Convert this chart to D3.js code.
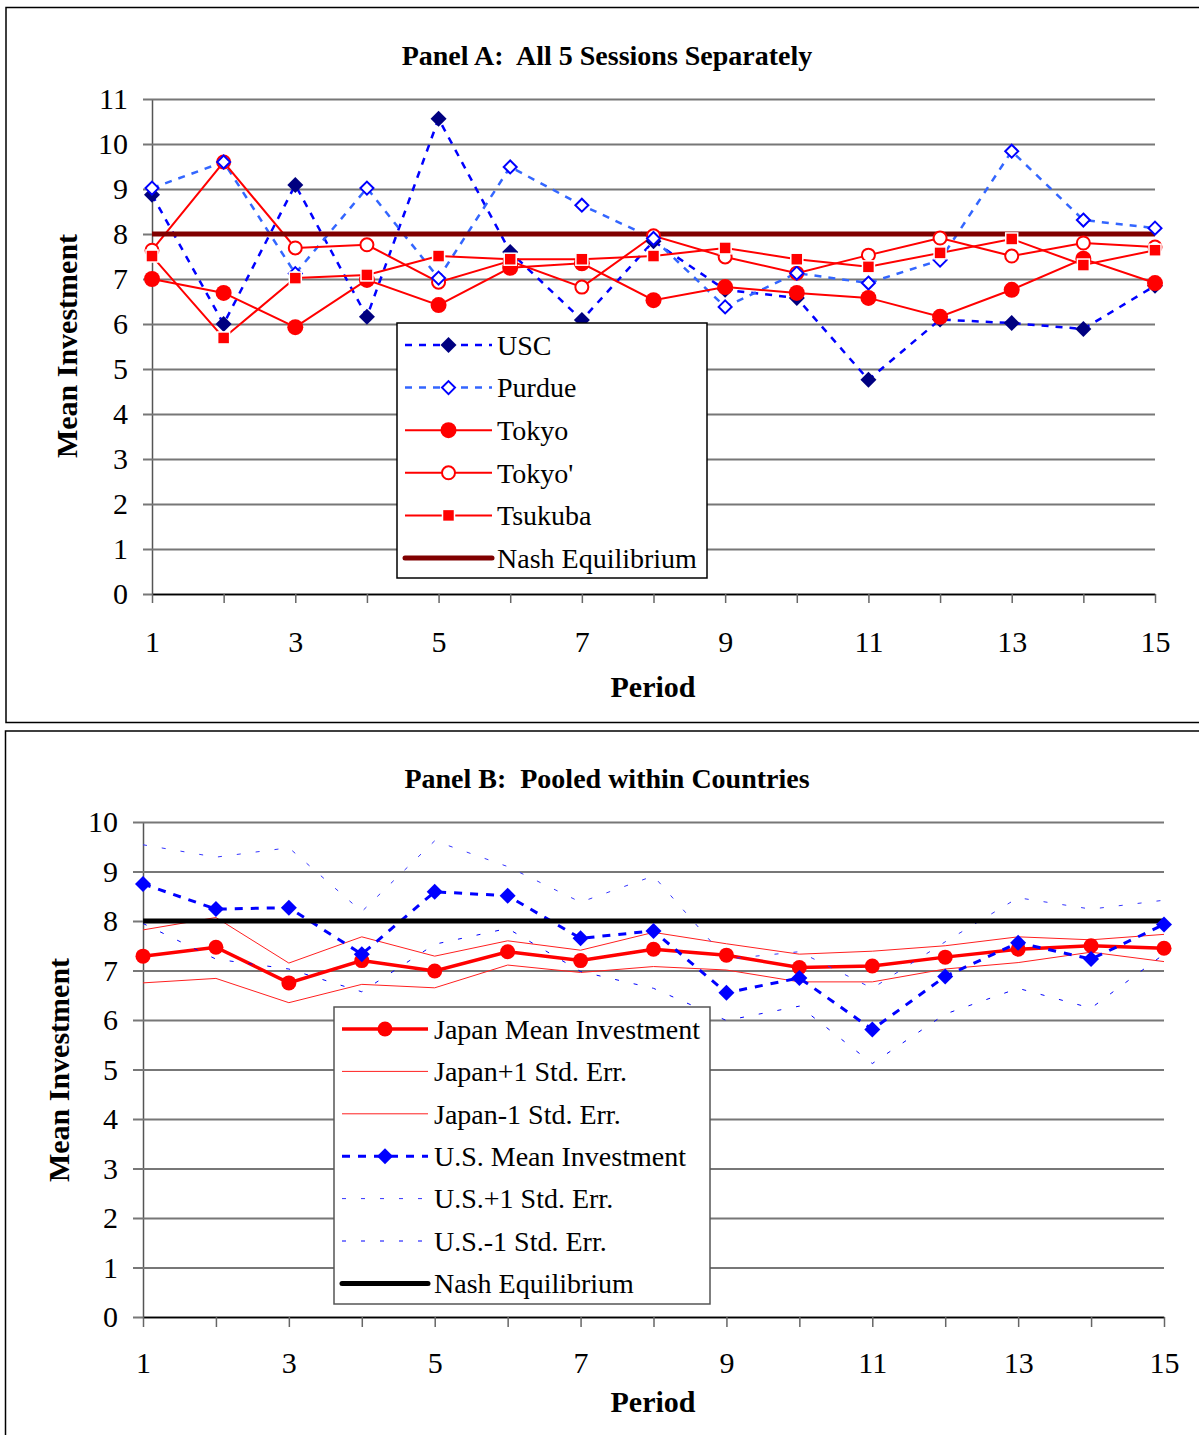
<!DOCTYPE html>
<html>
<head>
<meta charset="utf-8">
<script src="https://cdn.jsdelivr.net/npm/d3@7"></script>
<style>
  body { margin: 0; background: #fff; }
  svg text { font-family: "Liberation Serif", "Times New Roman", serif; }
</style>
</head>
<body>
<div id="root"></div>
<script>
// periods shared by both panels
const periods = d3.range(1, 16);
const xTickLabels = [1, 3, 5, 7, 9, 11, 13, 15];

// Panel A: every session on its own
const usc = [8.87, 6.0, 9.09, 6.16, 10.56, 7.6, 6.09, 7.84, 6.76, 6.58, 4.76, 6.1, 6.02, 5.89, 6.85];
const purdue = [9.02, 9.6, 7.12, 9.02, 7.02, 9.49, 8.64, 7.9, 6.38, 7.13, 6.91, 7.42, 9.84, 8.31, 8.13];
const tokyo = [7.0, 6.69, 5.93, 6.98, 6.42, 7.25, 7.35, 6.53, 6.82, 6.69, 6.58, 6.16, 6.76, 7.45, 6.91];
const tokyoPrime = [7.64, 9.6, 7.69, 7.76, 6.93, 7.4, 6.82, 7.96, 7.49, 7.13, 7.53, 7.91, 7.51, 7.8, 7.71];
const tsukuba = [7.51, 5.69, 7.02, 7.09, 7.51, 7.44, 7.44, 7.51, 7.69, 7.44, 7.27, 7.58, 7.89, 7.31, 7.64];
const yTicksA = d3.range(0, 12);

// Panel B: pooled by country
const japan = [7.29, 7.47, 6.75, 7.2, 6.99, 7.38, 7.2, 7.43, 7.31, 7.06, 7.09, 7.27, 7.43, 7.5, 7.45];
const japanHi = [7.82, 8.07, 7.15, 7.68, 7.29, 7.6, 7.41, 7.77, 7.54, 7.33, 7.39, 7.5, 7.68, 7.62, 7.73];
const japanLo = [6.75, 6.84, 6.35, 6.72, 6.65, 7.11, 6.96, 7.08, 7.01, 6.77, 6.77, 7.03, 7.16, 7.37, 7.18];
const us = [8.75, 8.24, 8.27, 7.33, 8.59, 8.51, 7.65, 7.8, 6.55, 6.85, 5.81, 6.88, 7.56, 7.23, 7.93];
const usHi = [9.54, 9.29, 9.48, 8.19, 9.62, 9.1, 8.38, 8.91, 7.23, 7.38, 6.64, 7.58, 8.47, 8.24, 8.42];
const usLo = [7.95, 7.23, 7.03, 6.57, 7.53, 7.85, 6.98, 6.64, 5.99, 6.28, 5.12, 6.12, 6.64, 6.24, 7.33];
const yTicksB = d3.range(0, 11);

const nashValue = 8;

const svg = d3.select("#root")
  .append("svg")
  .attr("width", 1199)
  .attr("height", 1435);

// diamond like excel's (square turned 45 degrees)
function diamond(r) {
  return `M0,${-r}L${r},0L0,${r}L${-r},0Z`;
}

function drawMarker(g, shape, x, y) {
  if (shape.type === "diamond") {
    g.append("path")
      .attr("d", diamond(shape.r))
      .attr("transform", `translate(${x},${y})`)
      .attr("fill", shape.fill)
      .attr("stroke", shape.stroke || "none")
      .attr("stroke-width", shape.sw || 0);
  } else if (shape.type === "circle") {
    g.append("circle")
      .attr("cx", x).attr("cy", y).attr("r", shape.r)
      .attr("fill", shape.fill)
      .attr("stroke", shape.stroke || "none")
      .attr("stroke-width", shape.sw || 0);
  } else if (shape.type === "square") {
    g.append("rect")
      .attr("x", x - shape.r).attr("y", y - shape.r)
      .attr("width", shape.r * 2).attr("height", shape.r * 2)
      .attr("fill", shape.fill)
      .attr("stroke", shape.stroke || "none")
      .attr("stroke-width", shape.sw || 0);
  }
}

function drawPanel(p) {
  const g = svg.append("g");

  // frame
  g.append("rect")
    .attr("x", p.frame[0]).attr("y", p.frame[1])
    .attr("width", p.frame[2]).attr("height", p.frame[3])
    .attr("fill", "none").attr("stroke", "#000").attr("stroke-width", 1.5);

  g.append("text")
    .attr("x", 607).attr("y", p.titleY)
    .attr("text-anchor", "middle")
    .attr("font-size", 28).attr("font-weight", "bold")
    .style("white-space", "pre")
    .text(p.title);

  const x = d3.scaleLinear().domain([1, 15]).range(p.xRange);
  const y = d3.scaleLinear().domain(p.yDomain).range(p.yRange);

  // y axis with gridlines
  const yAxis = d3.axisLeft(y)
    .tickValues(p.yTicks)
    .tickSize(-(p.gridRight - p.xRange[0]))
    .tickSizeOuter(0)
    .tickPadding(p.yPad);

  const ya = g.append("g")
    .attr("transform", `translate(${p.xRange[0]},0)`)
    .call(yAxis);
  ya.selectAll(".tick line")
    .attr("x1", -p.tickLen)
    .attr("stroke", "#777")
    .attr("stroke-width", 2);
  ya.select(".domain").attr("stroke", "#555").attr("stroke-width", 1.5);
  ya.selectAll("text")
    .attr("font-size", 30)
    .attr("fill", "#000")
    .attr("font-family", "'Liberation Serif', 'Times New Roman', serif");

  // x axis
  const xAxis = d3.axisBottom(x)
    .tickValues(periods)
    .tickSize(p.tickLen)
    .tickSizeOuter(0)
    .tickPadding(p.xPad)
    .tickFormat(d => xTickLabels.includes(d) ? d : "");
  const xa = g.append("g")
    .attr("transform", `translate(0,${y(0)})`)
    .call(xAxis);
  xa.select(".domain").attr("stroke", "#000").attr("stroke-width", 1.5);
  xa.selectAll(".tick line").attr("stroke", "#666").attr("stroke-width", 1.5);
  xa.selectAll("text")
    .attr("font-size", 30)
    .attr("fill", "#000")
    .attr("font-family", "'Liberation Serif', 'Times New Roman', serif");

  // axis titles
  g.append("text")
    .attr("x", 653).attr("y", p.periodY)
    .attr("text-anchor", "middle")
    .attr("font-size", 30).attr("font-weight", "bold")
    .text("Period");

  g.append("text")
    .attr("transform", `translate(${p.yTitleX},${p.yTitleY}) rotate(-90)`)
    .attr("text-anchor", "middle")
    .attr("font-size", 30).attr("font-weight", "bold")
    .text("Mean Investment");

  const line = d3.line()
    .x((d, i) => x(periods[i]))
    .y(d => y(d));

  // lines first, then markers on top
  p.series.forEach(s => {
    g.append("path")
      .datum(s.values)
      .attr("d", line)
      .attr("fill", "none")
      .attr("stroke", s.color)
      .attr("stroke-width", s.width)
      .attr("stroke-dasharray", s.dash || null);
  });

  const mg = g.append("g");
  const order = p.markerOrder || p.series.map((s, i) => i);
  order.forEach(k => {
    const s = p.series[k];
    if (!s.marker) return;
    s.values.forEach((v, i) => drawMarker(mg, s.marker, x(periods[i]), y(v)));
  });

  // legend
  const L = p.legend;
  const lg = g.append("g");
  lg.append("rect")
    .attr("x", L.box[0]).attr("y", L.box[1])
    .attr("width", L.box[2]).attr("height", L.box[3])
    .attr("fill", "#fff").attr("stroke", L.border).attr("stroke-width", 1.5);

  p.series.forEach((s, i) => {
    const ry = L.firstY + i * L.step;
    lg.append("line")
      .attr("x1", L.x1).attr("x2", L.x2)
      .attr("y1", ry).attr("y2", ry)
      .attr("stroke", s.color)
      .attr("stroke-width", s.width)
      .attr("stroke-dasharray", s.legendDash || s.dash || null)
      .attr("stroke-linecap", s.name.startsWith("Nash") ? "round" : "butt");
    if (s.marker) drawMarker(lg, s.marker, (L.x1 + L.x2) / 2, ry);
    lg.append("text")
      .attr("x", L.textX).attr("y", ry)
      .attr("dy", "0.35em")
      .attr("font-size", 28)
      .text(s.name);
  });
}

drawPanel({
  frame: [6, 7.5, 1200, 715],
  title: "Panel A:  All 5 Sessions Separately",
  titleY: 65,
  xRange: [152, 1155],
  yDomain: [0, 11],
  yRange: [594, 99],
  yTicks: yTicksA,
  gridRight: 1155,
  tickLen: 9,
  yPad: 24,
  xPad: 28,
  periodY: 697,
  yTitleX: 77,
  yTitleY: 346,
  markerOrder: [3, 0, 1, 2, 4],
  series: [
    { name: "USC", values: usc, color: "#0000ff", width: 2.5, dash: "7,7",
      marker: { type: "diamond", r: 8, fill: "#000080" } },
    { name: "Purdue", values: purdue, color: "#3366ff", width: 2.5, dash: "7,7",
      marker: { type: "diamond", r: 6.5, fill: "#fff", stroke: "#0000ff", sw: 2 } },
    { name: "Tokyo", values: tokyo, color: "#ff0000", width: 2,
      marker: { type: "circle", r: 8, fill: "#ff0000" } },
    { name: "Tokyo'", values: tokyoPrime, color: "#ff0000", width: 2,
      marker: { type: "circle", r: 6.5, fill: "#fff", stroke: "#ff0000", sw: 2 } },
    { name: "Tsukuba", values: tsukuba, color: "#ff0000", width: 2,
      marker: { type: "square", r: 6, fill: "#ff0000", stroke: "#fff", sw: 1.5 } },
    { name: "Nash Equilibrium", values: periods.map(() => nashValue), color: "#800000", width: 5 }
  ],
  legend: { box: [397, 323, 310, 255], border: "#000", firstY: 345, step: 42.6,
            x1: 405, x2: 492, textX: 497 }
});

drawPanel({
  frame: [5.5, 731, 1200, 720],
  title: "Panel B:  Pooled within Countries",
  titleY: 788,
  xRange: [143, 1164],
  yDomain: [0, 10],
  yRange: [1317, 822],
  yTicks: yTicksB,
  gridRight: 1164,
  tickLen: 10,
  yPad: 25,
  xPad: 25,
  periodY: 1412,
  yTitleX: 69,
  yTitleY: 1070,
  series: [
    { name: "Japan Mean Investment", values: japan, color: "#ff0000", width: 3.5,
      marker: { type: "circle", r: 7.5, fill: "#ff0000" } },
    { name: "Japan+1 Std. Err.", values: japanHi, color: "#ff2020", width: 1 },
    { name: "Japan-1 Std. Err.", values: japanLo, color: "#ff2020", width: 1 },
    { name: "U.S. Mean Investment", values: us, color: "#0000ff", width: 3, dash: "8,8",
      marker: { type: "diamond", r: 8, fill: "#0000ff" } },
    { name: "U.S.+1 Std. Err.", values: usHi, color: "#3333ff", width: 1, dash: "4,15" },
    { name: "U.S.-1 Std. Err.", values: usLo, color: "#0000ff", width: 1, dash: "4,15" },
    { name: "Nash Equilibrium", values: periods.map(() => nashValue), color: "#000", width: 5 }
  ],
  legend: { box: [334, 1007, 376, 297], border: "#555", firstY: 1029, step: 42.4,
            x1: 342, x2: 428, textX: 434 }
});
</script>
</body>
</html>
